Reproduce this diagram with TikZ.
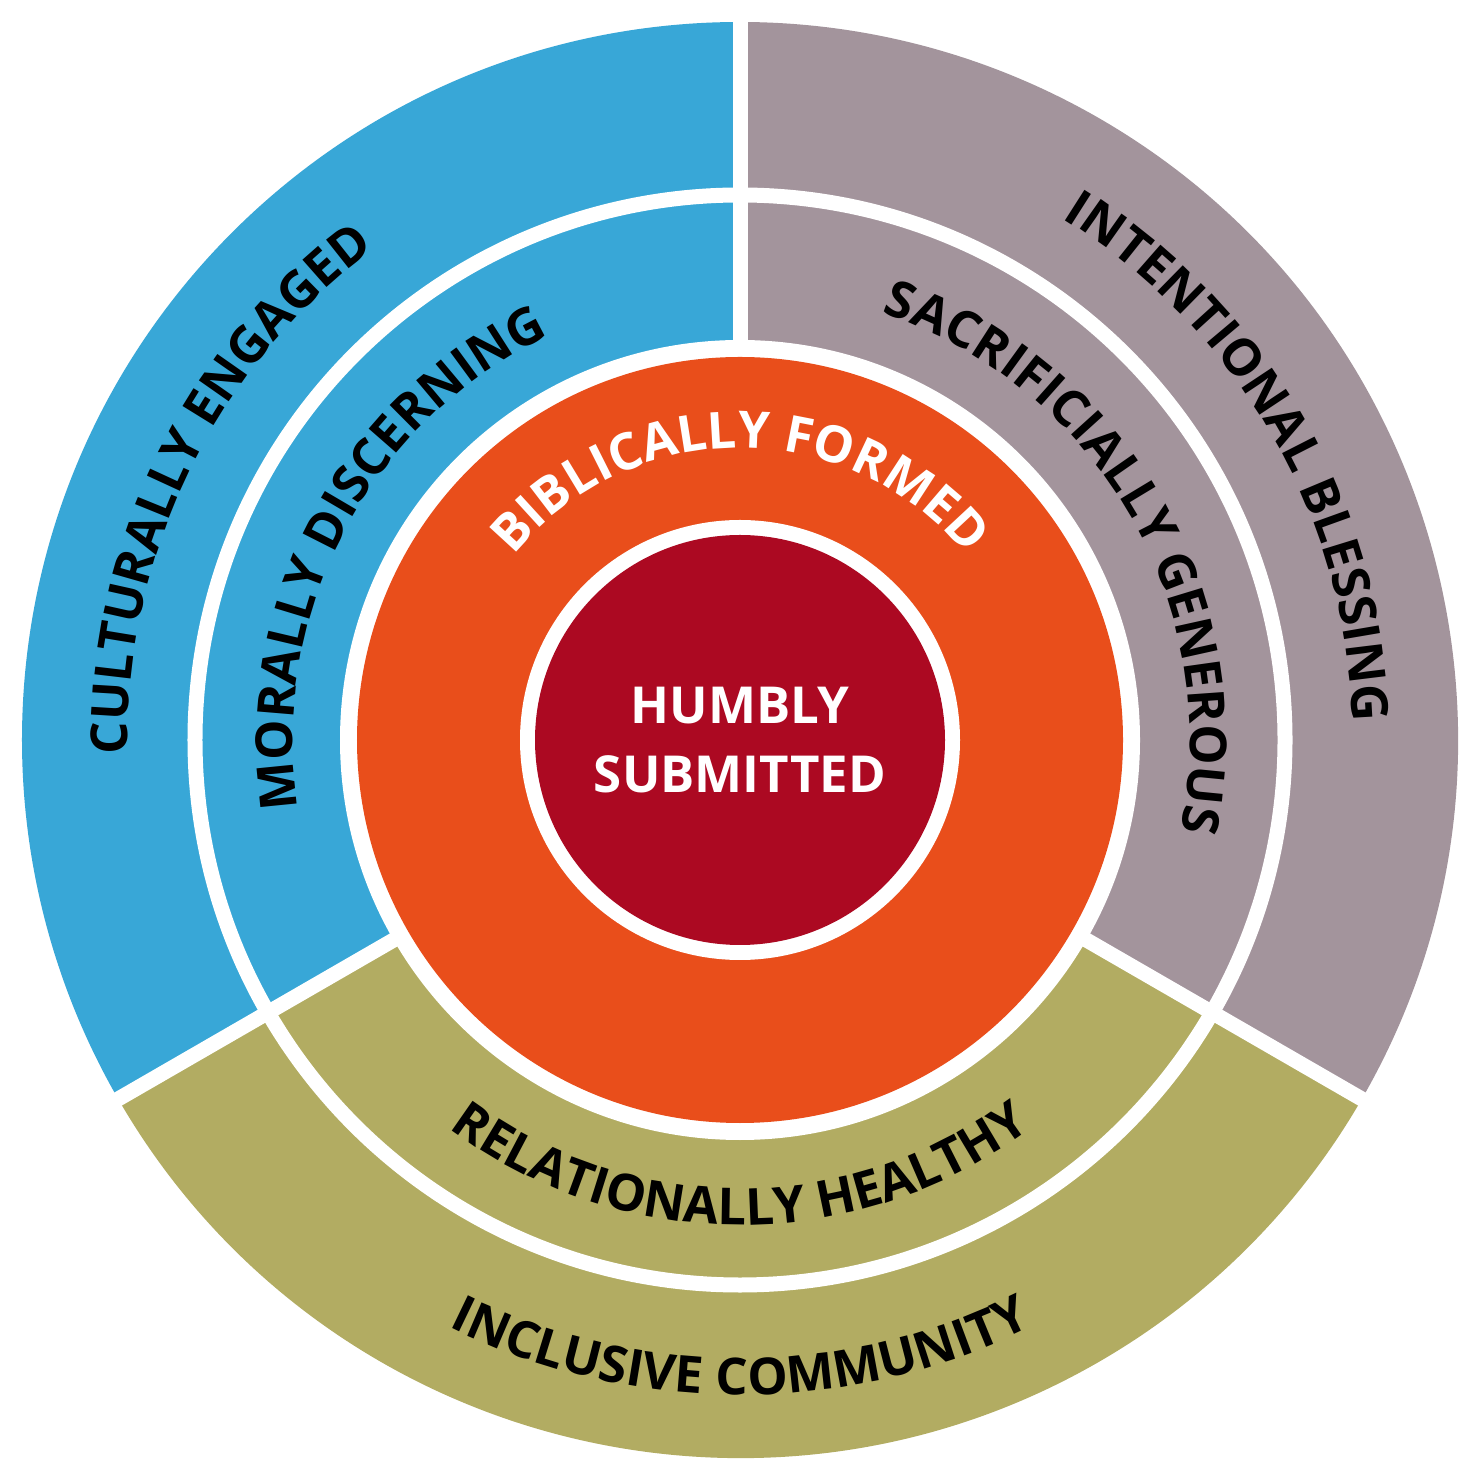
\documentclass[tikz,border=0pt]{standalone}
\usepackage{fontspec}
\setmainfont{Open Sans}
\usetikzlibrary{decorations.text}
\definecolor{cblue}{HTML}{38A7D7}
\definecolor{cgray}{HTML}{A3949C}
\definecolor{cgreen}{HTML}{B2AC62}
\definecolor{corange}{HTML}{E94E1B}
\definecolor{cred}{HTML}{AC0922}
\newcommand{\lblfmt}{\fontsize{14.5}{16}\selectfont\bfseries}
\begin{document}
\begin{tikzpicture}[sep/.style={white,line width=0.15cm}]
\useasboundingbox[fill=white] (-7.40,-7.39) rectangle (7.39,7.40);
\fill[cblue] (0,0) -- (90:7.18) arc (90:210:7.18) -- cycle;
\fill[cgray] (0,0) -- (-30:7.18) arc (-30:90:7.18) -- cycle;
\fill[cgreen] (0,0) -- (210:7.18) arc (210:330:7.18) -- cycle;
\coordinate (o) at (0,0);
\coordinate (t) at (90:7.3);
\coordinate (l1) at (210:3.9); \coordinate (l2) at (210:7.3);
\coordinate (r1) at (330:3.9); \coordinate (r2) at (330:7.3);
\draw[sep] (o) -- (t);
\draw[sep] (l1) -- (l2);
\draw[sep] (r1) -- (r2);
\draw[sep] (o) circle (5.45);
\fill[white] (o) circle (4.0);
\fill[corange] (o) circle (3.83);
\fill[white] (o) circle (2.2);
\fill[cred] (o) circle (2.05);
\node[white,align=center,font=\fontsize{14.5}{19.5}\selectfont\bfseries] (c) at (0,0) {HUMBLY\\SUBMITTED};
\path[decorate,decoration={text along path,text align=center,text={|\lblfmt|CULTURALLY ENGAGED}}] (214:6.12) arc (214:94:6.12);
\path[decorate,decoration={text along path,text align=center,text={|\lblfmt|MORALLY DISCERNING}}] (212:4.47) arc (212:92:4.47);
\path[decorate,decoration={text along path,text align=center,text={|\lblfmt|INTENTIONAL BLESSING}}] (90:6.13) arc (90:-30:6.13);
\path[decorate,decoration={text along path,text align=center,text={|\lblfmt|SACRIFICIALLY GENEROUS}}] (90:4.5) arc (90:-30:4.5);
\path[decorate,decoration={text along path,text align=center,text={|\lblfmt\color{white}|BIBLICALLY FORMED}}] (150:2.92) arc (150:30:2.92);
\path[decorate,decoration={text along path,text align=center,text={|\lblfmt|RELATIONALLY HEALTHY}}] (210:4.85) arc (210:330:4.85);
\path[decorate,decoration={text along path,text align=center,text={|\lblfmt|INCLUSIVE COMMUNITY}}] (210:6.55) arc (210:330:6.55);
\end{tikzpicture}
\end{document}
